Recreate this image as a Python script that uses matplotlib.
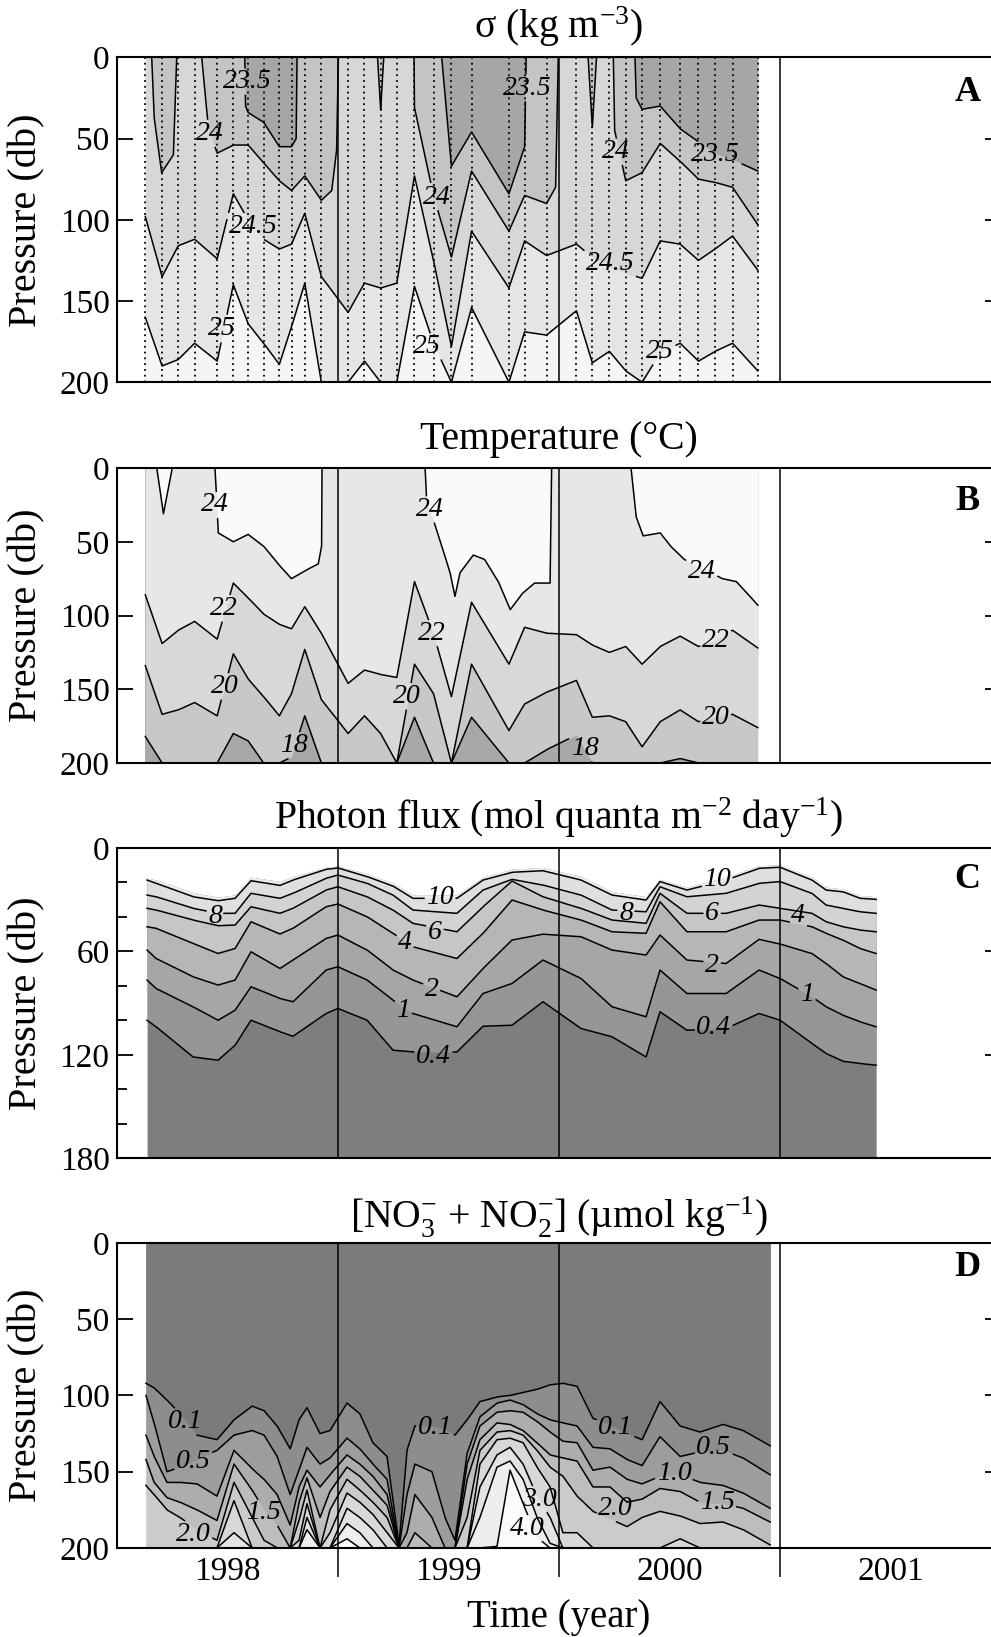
import numpy as np
import matplotlib
matplotlib.use("Agg")
import matplotlib.pyplot as plt

plt.rcParams['font.family'] = ['Liberation Serif', 'DejaVu Serif']
plt.rcParams['mathtext.fontset'] = 'custom'
plt.rcParams['mathtext.rm'] = 'Liberation Serif'
plt.rcParams['mathtext.it'] = 'Liberation Serif:italic'

# cruise dates (decimal year) used for panels A and B
stations = [1998.130, 1998.206, 1998.279, 1998.353, 1998.455, 1998.528, 1998.595,
            1998.665, 1998.736, 1998.791, 1998.851, 1998.926, 1999.047, 1999.121,
            1999.194, 1999.267, 1999.347, 1999.433, 1999.514, 1999.605, 1999.774,
            1999.845, 1999.944, 2000.079, 2000.151, 2000.228, 2000.302, 2000.376,
            2000.458, 2000.548, 2000.631, 2000.706, 2000.785, 2000.899]

# A: depth (db) of each isopycnal; 23.5 and 24 are traced with their own vertices
sigma_235_x = [1998.130, 1998.580, 1998.583, 1998.595, 1998.665, 1998.736, 1998.791, 1998.812,
               1998.816, 1999.470, 1999.514, 1999.605, 1999.774, 1999.845, 1999.852, 2000.344,
               2000.349, 2000.376, 2000.458, 2000.548, 2000.631, 2000.706, 2000.785, 2000.899]
sigma_235 = [0, 0, 30, 34, 40, 55, 55, 50, 0, 0, 67, 46, 84, 55, 0, 0, 25, 32, 30, 44, 52, 59,
             63, 70]
sigma_24_x = [1998.130, 1998.159, 1998.170, 1998.204, 1998.257, 1998.272, 1998.385, 1998.415,
              1998.455, 1998.528, 1998.595, 1998.665, 1998.736, 1998.791, 1998.851, 1998.926,
              1998.973, 1998.995, 1999.003, 1999.180, 1999.194, 1999.208, 1999.345, 1999.347,
              1999.433, 1999.514, 1999.605, 1999.774, 1999.845, 1999.944, 1999.985, 1999.997,
              2000.132, 2000.151, 2000.170, 2000.246, 2000.252, 2000.302, 2000.376, 2000.458,
              2000.548, 2000.631, 2000.706, 2000.785, 2000.899]
sigma_24 = [0, 0, 37, 71, 60, 0, 0, 43, 59, 54, 54, 65, 76, 82, 73, 88, 82, 57, 0, 0, 32, 0, 0,
            31, 85, 123, 70, 107, 85, 90, 80, 0, 0, 43, 0, 0, 45, 76, 71, 53, 64, 75, 77, 80, 103]
sigma_245 = [98, 135, 116, 112, 124, 84, 100, 112, 118, 115, 96, 135, 157, 139, 142, 139, 73,
             125, 178, 107, 142, 113, 122, 115, 123, 129, 133, 136, 113, 115, 125, 118, 110, 131]
sigma_25 = [160, 190, 186, 176, 187, 140, 164, 176, 189, 166, 139, 200, 200, 187, 200, 200, 141,
            176, 200, 154, 200, 169, 171, 156, 188, 181, 193, 200, 182, 176, 187, 181, 176, 193]

# B: depth (db) of each isotherm; 24 is traced with its own vertices
temp_24_x = [1998.130, 1998.182, 1998.212, 1998.252, 1998.445, 1998.453, 1998.460, 1998.528,
             1998.595, 1998.665, 1998.736, 1998.791, 1998.860, 1998.912, 1998.927, 1998.929,
             1999.395, 1999.402, 1999.432, 1999.477, 1999.508, 1999.530, 1999.553, 1999.613,
             1999.664, 1999.726, 1999.780, 1999.835, 1999.890, 1999.960, 1999.967, 2000.326,
             2000.349, 2000.381, 2000.458, 2000.505, 2000.567, 2000.739, 2000.802, 2000.864,
             2000.899]
temp_24 = [0, 0, 31, 0, 0, 22, 44, 50, 45, 53, 66, 75, 69, 65, 53, 0, 0, 22, 35, 56, 71, 87, 71,
           59, 62, 77, 96, 85, 78, 78, 0, 0, 33, 46, 44, 53, 62, 75, 77, 87, 93]
temp_22 = [86, 119, 110, 104, 116, 78, 88, 99, 106, 109, 94, 112, 146, 137, 140, 142, 77, 112,
           155, 91, 133, 108, 112, 113, 120, 125, 121, 133, 121, 114, 121, 117, 110, 122]
temp_20 = [134, 167, 164, 159, 168, 126, 143, 155, 168, 153, 123, 157, 180, 168, 180, 200, 133,
           153, 200, 133, 178, 160, 152, 144, 169, 168, 172, 189, 172, 164, 172, 169, 167, 176]
temp_18 = [182, 200, 200, 200, 200, 180, 185, 200, 200, 196, 168, 200, 200, 200, 200, 200, 169,
           200, 200, 169, 200, 200, 191, 181, 200, 200, 200, 200, 200, 197, 200, 200, 200, 200]

# C: photon flux isolines (db)
photon_x = [1998.138, 1998.179, 1998.346, 1998.459, 1998.536, 1998.608, 1998.739, 1998.798,
            1998.947, 1999.001, 1999.133, 1999.250, 1999.340, 1999.539, 1999.657, 1999.788,
            1999.928, 2000.100, 2000.240, 2000.394, 2000.457, 2000.579, 2000.756, 2000.905,
            2001.000, 2001.144, 2001.208, 2001.284, 2001.361, 2001.434]
photon_top = [17.6, 18.6, 25.9, 28.6, 27.3, 17.0, 19.5, 16.6, 11.2, 10.5, 15.1, 20.5, 27.3, 27.3,
              17.0, 12.4, 11.4, 16.6, 25.4, 28.3, 18.2, 22.8, 17.0, 10.3, 9.9, 17.0, 22.8, 23.8,
              27.7, 28.3]
photon_10 = [18.6, 20.5, 28.3, 30.6, 29.2, 19.0, 21.7, 18.6, 12.4, 11.6, 16.6, 22.1, 29.2, 29.2,
             18.6, 14.1, 13.2, 18.6, 27.3, 30.2, 19.5, 24.4, 18.6, 11.8, 11.2, 18.6, 24.4, 25.4,
             29.2, 29.8]
photon_8 = [27.3, 28.3, 35.0, 37.9, 37.9, 26.3, 29.2, 26.3, 17.6, 15.7, 20.5, 27.3, 36.0, 37.9,
            24.4, 18.2, 21.5, 27.3, 36.0, 37.0, 22.5, 28.3, 26.3, 20.5, 19.5, 26.3, 33.1, 35.0,
            37.0, 37.9]
photon_6 = [35.0, 36.0, 41.8, 45.1, 44.7, 34.1, 37.9, 35.0, 24.4, 22.5, 28.3, 36.0, 43.7, 48.6,
            34.1, 19.2, 28.3, 35.0, 41.8, 43.7, 26.3, 37.9, 37.9, 33.1, 35.0, 37.9, 42.8, 45.7,
            47.6, 48.6]
photon_4 = [45.7, 46.6, 55.4, 61.2, 58.3, 42.8, 49.9, 46.6, 34.1, 32.5, 39.9, 49.5, 57.3, 64.1,
            49.5, 30.2, 36.0, 41.8, 48.6, 49.5, 31.2, 48.6, 48.6, 41.8, 41.8, 45.7, 49.5, 53.4,
            58.3, 61.2]
photon_2 = [59.2, 64.1, 74.7, 79.5, 76.6, 60.2, 69.9, 65.0, 52.5, 50.5, 59.2, 70.8, 76.6, 86.3,
            69.9, 53.4, 50.0, 51.5, 59.2, 62.1, 50.5, 65.0, 67.0, 53.0, 55.7, 61.2, 67.0, 74.7,
            78.6, 82.4]
photon_1 = [76.6, 81.5, 92.1, 99.9, 94.1, 80.5, 87.3, 89.2, 70.8, 68.9, 76.6, 88.3, 96.0, 103.7,
            84.4, 78.6, 65.0, 75.7, 92.1, 97.9, 70.8, 84.4, 84.4, 70.8, 75.7, 86.3, 92.1, 97.0,
            100.8, 103.7]
photon_04 = [99.9, 103.7, 121.2, 123.1, 114.4, 99.9, 106.6, 109.2, 96.0, 93.1, 99.9, 117.3,
             118.3, 118.3, 103.4, 102.8, 89.2, 104.7, 109.5, 121.2, 95.0, 105.7, 104.7, 96.0,
             99.9, 113.4, 119.2, 123.7, 125.0, 126.0]

# D: nitrate+nitrite isolines (db)
nitrate_x = [1998.133, 1998.170, 1998.228, 1998.287, 1998.364, 1998.454, 1998.531, 1998.613,
             1998.667, 1998.726, 1998.785, 1998.825, 1998.861, 1998.920, 1998.965, 1999.042,
             1999.100, 1999.159, 1999.223, 1999.277, 1999.313, 1999.349, 1999.426, 1999.485,
             1999.530, 1999.585, 1999.643, 1999.720, 1999.779, 1999.838, 1999.901, 1999.960,
             2000.018, 2000.082, 2000.154, 2000.231, 2000.308, 2000.376, 2000.457, 2000.548,
             2000.638, 2000.742, 2000.833, 2000.955]
no3_01 = [92, 95, 103, 112, 126, 129, 116, 107, 110, 120, 135, 116, 108, 125, 123, 105, 112, 131,
          140, 198, 136, 120, 120, 122, 126, 116, 104, 101, 100, 98, 96, 93, 92, 94, 115, 119,
          125, 129, 104, 120, 124, 119, 123, 133]
no3_05 = [100, 118, 150, 147, 142, 136, 126, 123, 126, 140, 165, 149, 134, 145, 141, 128, 135,
          145, 155, 200, 165, 145, 150, 180, 195, 138, 114, 105, 103, 106, 112, 116, 118, 120,
          134, 135, 142, 146, 127, 140, 137, 136, 141, 152]
no3_10 = [126, 140, 157, 157, 158, 166, 136, 148, 155, 165, 185, 160, 149, 160, 152, 139, 145,
          153, 165, 200, 190, 165, 180, 200, 200, 145, 120, 111, 110, 111, 117, 124, 130, 131,
          149, 147, 155, 158, 153, 152, 157, 159, 164, 174]
no3_15 = [142, 157, 167, 170, 175, 182, 145, 162, 175, 185, 200, 170, 154, 180, 163, 147, 153,
          162, 172, 200, 200, 190, 200, 200, 200, 155, 129, 118, 119, 123, 131, 139, 141, 143,
          160, 160, 170, 168, 161, 163, 170, 171, 174, 183]
no3_20 = [159, 165, 175, 180, 188, 195, 157, 180, 195, 200, 200, 182, 162, 200, 175, 155, 162,
          170, 180, 200, 200, 200, 200, 200, 200, 180, 136, 124, 123, 126, 136, 147, 153, 166,
          176, 181, 186, 180, 176, 179, 184, 183, 188, 198]
no3_25 = [200, 200, 200, 200, 200, 200, 169, 200, 200, 200, 200, 195, 171, 200, 190, 164, 170,
          178, 190, 200, 200, 200, 200, 200, 200, 200, 145, 129, 128, 131, 147, 160, 190, 190,
          200, 200, 200, 200, 200, 194, 200, 200, 200, 200]
no3_30 = [200, 200, 200, 200, 200, 200, 190, 200, 200, 200, 200, 200, 180, 200, 200, 174, 180,
          188, 200, 200, 200, 200, 200, 200, 200, 200, 160, 139, 134, 145, 166, 180, 200, 200,
          200, 200, 200, 200, 200, 200, 200, 200, 200, 200]
no3_35 = [200, 200, 200, 200, 200, 200, 200, 200, 200, 200, 200, 200, 188, 200, 200, 184, 190,
          200, 200, 200, 200, 200, 200, 200, 200, 200, 180, 147, 143, 155, 180, 197, 200, 200,
          200, 200, 200, 200, 200, 200, 200, 200, 200, 200]
no3_40 = [200, 200, 200, 200, 200, 200, 200, 200, 200, 200, 200, 200, 200, 200, 200, 194, 200,
          200, 200, 200, 200, 200, 200, 200, 200, 200, 200, 199, 149, 171, 193, 200, 200, 200,
          200, 200, 200, 200, 200, 200, 200, 200, 200, 200]

years = [1999, 2000, 2001]
year_labels = ['1998', '1999', '2000', '2001']

# contour labels: text, time, depth, isoline index
sigma_labels = [('23.5', 1998.589, 15, 0), ('24', 1998.423, 47, 1), ('24.5', 1998.618, 104, 2),
                ('25', 1998.476, 167, 3), ('24', 1999.448, 86, 1), ('25', 1999.402, 178, 3),
                ('23.5', 1999.859, 19, 0), ('24', 2000.256, 58, 1), ('23.5', 2000.708, 60, 0),
                ('24.5', 2000.232, 127, 2), ('25', 2000.458, 181, 3)]
temp_labels = [('24', 1998.445, 25, 0), ('22', 1998.483, 95, 1), ('20', 1998.491, 148, 2),
               ('18', 1998.8, 188, 3), ('24', 1999.417, 28, 0), ('22', 1999.425, 112, 1),
               ('20', 1999.312, 155, 2), ('24', 2000.646, 70, 0), ('22', 2000.708, 117, 1),
               ('20', 2000.708, 169, 2), ('18', 2000.116, 190, 3)]
photon_labels = [('8', 1998.445, 40, 1), ('10', 1999.462, 29, 0), ('6', 1999.44, 49, 2),
                 ('4', 1999.304, 55, 3), ('2', 1999.425, 82, 4), ('1', 1999.297, 94, 5),
                 ('0.4', 1999.432, 121, 6), ('10', 2000.716, 18, 0), ('8', 2000.303, 38, 1),
                 ('6', 2000.692, 38, 2), ('4', 2001.082, 39, 3), ('2', 2000.692, 68, 4),
                 ('1', 2001.122, 85, 5), ('0.4', 2000.7, 104, 6)]
nitrate_labels = [('0.1', 1998.31, 117, 0), ('0.5', 1998.347, 143, 1), ('1.5', 1998.664, 177, 3),
                  ('2.0', 1998.347, 191, 4), ('0.1', 1999.44, 121, 0), ('0.1', 2000.256, 121, 0),
                  ('0.5', 2000.7, 134, 1), ('1.0', 2000.52, 151, 2), ('1.5', 2000.716, 170, 3),
                  ('3.0', 1999.913, 168, 6), ('4.0', 1999.858, 187, 8), ('2.0', 2000.256, 174, 4)]

sigma_colors = ['#a6a6a6', '#c4c4c4', '#d7d7d7', '#e5e5e5', '#f5f5f5']
temp_colors = ['#fafafa', '#e7e7e7', '#d8d8d8', '#c8c8c8', '#a8a8a8']
photon_colors = ['#ececec', '#dfdfdf', '#d3d3d3', '#c6c6c6', '#b6b6b6', '#a6a6a6', '#969696',
                 '#7e7e7e']
nitrate_colors = ['#7b7b7b', '#8d8d8d', '#9d9d9d', '#adadad', '#bdbdbd', '#cbcbcb', '#d8d8d8',
                  '#e3e3e3', '#eeeeee', '#fbfbfb']


def draw_bands(ax, x, curves, colors, bottom, top=None):
    # paint from the deepest band upwards, each fill reaching from the surface to its isoline
    x = np.asarray(x, float)
    top = np.zeros_like(x) if top is None else np.asarray(top, float)
    ax.fill_between(x, top, bottom, color=colors[-1], lw=0)
    for (cx, cd), color in reversed(list(zip(curves, colors[:-1]))):
        ctop = top if len(cx) == len(x) else 0
        ax.fill_between(cx, ctop, cd, color=color, lw=0)


def draw_isolines(ax, curves, labels):
    # place the labels, then leave a gap in the labelled isoline under each one
    renderer = ax.figure.canvas.get_renderer()
    inv = ax.transData.inverted()
    boxes = [[] for _ in curves]
    for text, x, y, k in labels:
        t = ax.text(x, y, text, ha='center', va='center', fontsize=20, style='italic',
                    zorder=5)
        bb = t.get_window_extent(renderer)
        (x0, y0), (x1, y1) = inv.transform([[bb.x0 - 2, bb.y0 - 1], [bb.x1 + 2, bb.y1 + 1]])
        boxes[k].append((min(x0, x1), max(x0, x1), min(y0, y1), max(y0, y1)))
    t = np.linspace(0, 1, 60, endpoint=False)
    for (cx, cd), kboxes in zip(curves, boxes):
        cx = np.asarray(cx, float)
        cd = np.asarray(cd, float)
        xs = np.append((cx[:-1, None] + t * np.diff(cx)[:, None]).ravel(), cx[-1])
        ys = np.append((cd[:-1, None] + t * np.diff(cd)[:, None]).ravel(), cd[-1])
        for bx0, bx1, by0, by1 in kboxes:
            inside = (xs > bx0) & (xs < bx1) & (ys > by0) & (ys < by1)
            ys = np.where(inside, np.nan, ys)
        ax.plot(xs, ys, color='k', lw=1.1)


def setup(ax, ymax, yticks, title, letter, letter_y, minor=None, title_pad=14):
    ax.set_xlim(1998, 2002)
    ax.set_ylim(ymax, 0)
    ax.set_yticks(yticks)
    if minor is not None:
        ax.set_yticks(minor, minor=True)
    ax.tick_params(axis='y', which='both', direction='in', left=True, right=True,
                   labelsize=24, pad=5, width=1.3)
    ax.tick_params(axis='y', which='major', length=11.5)
    ax.tick_params(axis='y', which='minor', length=7)
    ax.set_xticks([])
    for s in ax.spines.values():
        s.set_linewidth(1.5)
    ax.set_ylabel('Pressure (db)', fontsize=29)
    ax.yaxis.set_label_coords(-0.08, 0.5)
    ax.set_title(title, fontsize=28.5, pad=title_pad)
    ax.text(0.962, letter_y, letter, transform=ax.transAxes, fontsize=26,
            fontweight='bold', ha='center', va='center')
    for yr in years:
        ax.axvline(yr, color='k', lw=1.1, zorder=4)


fig = plt.figure(figsize=(9.91, 16.37), dpi=100)
left, width = 0.1176, 0.8928
ax_a = fig.add_axes([left, 0.7665, width, 0.1985])
ax_b = fig.add_axes([left, 0.5339, width, 0.1802])
ax_c = fig.add_axes([left, 0.2924, width, 0.1896])
ax_d = fig.add_axes([left, 0.0544, width, 0.1863])

# A
sigma_curves = [(sigma_235_x, sigma_235), (sigma_24_x, sigma_24), (stations, sigma_245),
                (stations, sigma_25)]
draw_bands(ax_a, stations, sigma_curves, sigma_colors, 200)
ax_a.vlines(stations, 0, 200, colors='k', linestyles=(0, (1, 2.2)), lw=1.3, zorder=3)
setup(ax_a, 200, [0, 50, 100, 150, 200], 'σ (kg m$^{-3}$)', 'A', 0.893)
draw_isolines(ax_a, sigma_curves, sigma_labels)

# B
temp_curves = [(temp_24_x, temp_24), (stations, temp_22), (stations, temp_20),
               (stations, temp_18)]
draw_bands(ax_b, stations, temp_curves, temp_colors, 200)
setup(ax_b, 200, [0, 50, 100, 150, 200], 'Temperature (°C)', 'B', 0.888)
draw_isolines(ax_b, temp_curves, temp_labels)

# C
photon_curves = [(photon_x, d) for d in (photon_10, photon_8, photon_6, photon_4, photon_2,
                                         photon_1, photon_04)]
draw_bands(ax_c, photon_x, photon_curves, photon_colors, 180, top=photon_top)
setup(ax_c, 180, [0, 60, 120, 180], 'Photon flux (mol quanta m$^{-2}$ day$^{-1}$)', 'C', 0.9,
      minor=[20, 40, 80, 100, 140, 160])
draw_isolines(ax_c, photon_curves, photon_labels)

# D
nitrate_curves = [(nitrate_x, d) for d in (no3_01, no3_05, no3_10, no3_15, no3_20, no3_25,
                                           no3_30, no3_35, no3_40)]
draw_bands(ax_d, nitrate_x, nitrate_curves, nitrate_colors, 200)
setup(ax_d, 200, [0, 50, 100, 150, 200], '[NO$_3^{-}$ + NO$_2^{-}$] (µmol kg$^{-1}$)', 'D',
      0.918, title_pad=11)
draw_isolines(ax_d, nitrate_curves, nitrate_labels)
ax_d.set_xticks(years)
ax_d.tick_params(axis='x', which='major', direction='out', length=21, width=1.1,
                 labelbottom=False)
ax_d.set_xticks([1998.5, 1999.5, 2000.5, 2001.5], minor=True)
ax_d.set_xticklabels(year_labels, minor=True)
ax_d.tick_params(axis='x', which='minor', length=0, labelsize=24, pad=6)
ax_d.set_xlabel('Time (year)', fontsize=28, labelpad=9)

fig.savefig('out.png', dpi=100)
